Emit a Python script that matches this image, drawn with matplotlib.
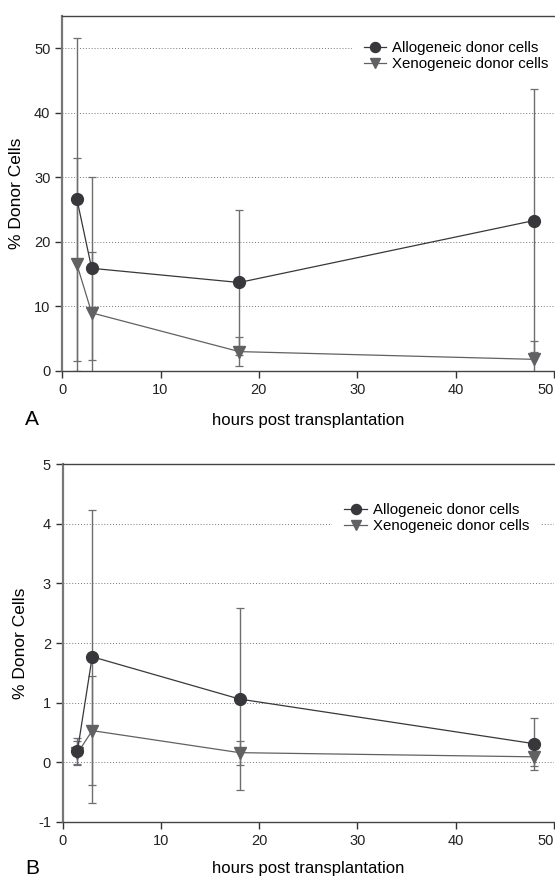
import matplotlib

matplotlib.use("Agg")
import matplotlib.pyplot as plt

plt.rcParams["font.family"] = ["Liberation Sans", "DejaVu Sans"]
plt.rcParams["axes.unicode_minus"] = False

HOURS = [1.5, 3, 18, 48]

# panel A
ALLO_A = [26.6, 15.9, 13.7, 23.3]
ALLO_A_ERR = [25.0, 14.2, 11.3, 20.3]
XENO_A = [16.5, 9.0, 3.0, 1.8]
XENO_A_ERR = [16.5, 9.4, 2.2, 2.9]

# panel B
ALLO_B = [0.19, 1.77, 1.06, 0.31]
ALLO_B_ERR = [0.22, 2.46, 1.53, 0.44]
XENO_B = [0.15, 0.53, 0.16, 0.09]
XENO_B_ERR = [0.20, 0.92, 0.20, 0.15]

ALLO_C = "#38383c"
XENO_C = "#616164"
ERR_C = "#6e6e70"


def panel(ax, allo, allo_err, xeno, xeno_err, ylim, yticks, grid_ticks, leg_anchor, xpad):
    ax.errorbar(HOURS, allo, yerr=allo_err, fmt="none", ecolor=ERR_C, elinewidth=1.0,
                capsize=3.2, capthick=0.9, zorder=2)
    ax.errorbar(HOURS, xeno, yerr=xeno_err, fmt="none", ecolor=ERR_C, elinewidth=1.0,
                capsize=3.2, capthick=0.9, zorder=2)
    ax.plot(HOURS, xeno, "-", color=XENO_C, lw=0.9, marker="v", ms=8, mfc=XENO_C,
            mec=XENO_C, label="Xenogeneic donor cells", zorder=3)
    ax.plot(HOURS, allo, "-", color=ALLO_C, lw=0.9, marker="o", ms=8.5, mfc=ALLO_C,
            mec=ALLO_C, label="Allogeneic donor cells", zorder=4)

    for g in grid_ticks:
        ax.axhline(g, color="#777777", lw=0.7, ls=(0, (1, 2)), zorder=1)

    ax.set_xlim(0, 50)
    ax.set_ylim(*ylim)
    ax.set_xticks([0, 10, 20, 30, 40, 50])
    ax.set_yticks(yticks)
    ax.spines["right"].set_visible(False)
    for s in ("left", "bottom", "top"):
        ax.spines[s].set_color("#444444")
        ax.spines[s].set_linewidth(1.0)
    ax.spines["left"].set_color("#777777")
    ax.spines["left"].set_linewidth(1.6)
    ax.tick_params(direction="out", length=5, width=1, colors="#333333",
                   labelsize=10.5, labelcolor="#222222")
    ax.set_ylabel("% Donor Cells", fontsize=12.5, labelpad=7)
    ax.set_xlabel("hours post transplantation", fontsize=12, labelpad=xpad)
    labels = ax.get_xticklabels()
    labels[-1].set_horizontalalignment("right")

    # white box without edge, so the dotted grid stops short of the legend
    h, l = ax.get_legend_handles_labels()
    leg = ax.legend(h[::-1], l[::-1], loc="upper left", bbox_to_anchor=leg_anchor,
                    frameon=True, fancybox=False, framealpha=1, fontsize=10.8,
                    handlelength=1.5, handletextpad=0.4, labelspacing=0.12,
                    markerscale=0.85, borderaxespad=0, borderpad=0.8)
    leg.get_frame().set_facecolor("white")
    leg.get_frame().set_edgecolor("none")


fig = plt.figure(figsize=(5.55, 8.77), dpi=100)
ax_a = fig.add_axes([0.112, 0.577, 0.886, 0.405])
ax_b = fig.add_axes([0.113, 0.063, 0.885, 0.4075])

panel(ax_a, ALLO_A, ALLO_A_ERR, XENO_A, XENO_A_ERR, (0, 55),
      [0, 10, 20, 30, 40, 50], [10, 20, 30, 40, 50], (0.589, 0.962), 12)
panel(ax_b, ALLO_B, ALLO_B_ERR, XENO_B, XENO_B_ERR, (-1, 5),
      [-1, 0, 1, 2, 3, 4, 5], [0, 1, 2, 3, 4], (0.549, 0.925), 10)

fig.text(25 / 555, 1 - 410 / 877, "A", fontsize=15, ha="left", va="top")
fig.text(25 / 555, 1 - 859 / 877, "B", fontsize=15, ha="left", va="top")

fig.savefig("out.png", dpi=100)
